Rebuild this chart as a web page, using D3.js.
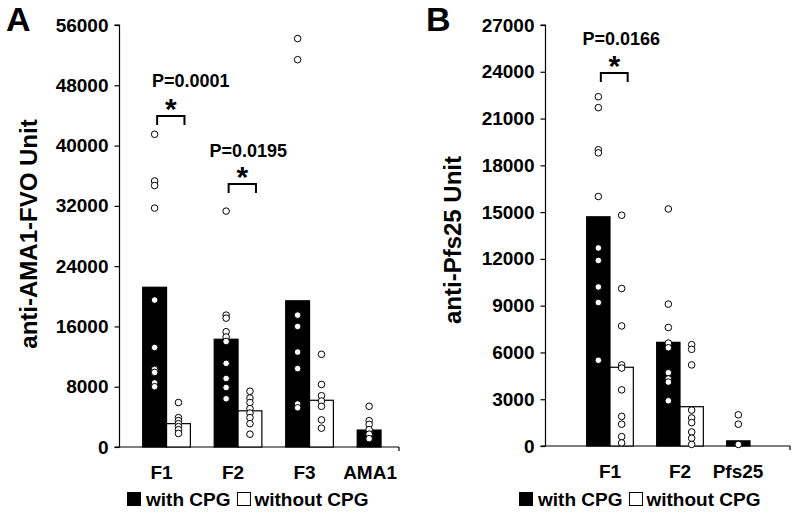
<!DOCTYPE html>
<html>
<head>
<meta charset="utf-8">
<script src="https://cdn.jsdelivr.net/npm/d3@7"></script>
<style>
  html, body { margin: 0; padding: 0; background: #fff; }
  svg { display: block; }
  text { font-family: "Liberation Sans", Arial, sans-serif; font-weight: bold; fill: #000; }
</style>
</head>
<body>
<svg id="chart" width="800" height="521"></svg>
<script>
// ---------------- DATA ----------------
const seriesNames = ["with CPG", "without CPG"];

// Panel A
const categoriesA = ["F1", "F2", "F3", "AMA1"];
const barsWithA = [21200, 14300, 19400, 2250];
const barsWithoutA = [3100, 4800, 6200, null];
const pointsWithA = [
  [41500, 35300, 34700, 31700, 19500, 13200, 10300, 9900, 8500, 8000],
  [31300, 17500, 17100, 15300, 14600, 14000, 11100, 9100, 7900, 6400],
  [54200, 51400, 17500, 16000, 12600, 10400, 5700, 5200],
  [5400, 3500, 3000, 2300, 1700, 1100]
];
const pointsWithoutA = [
  [5900, 3900, 3500, 3100, 2700, 2300, 1800],
  [7400, 6500, 5900, 5100, 4500, 3900, 3100, 1700],
  [12300, 8300, 6800, 6100, 5400, 3600, 2500],
  []
];
const ticksA = [0, 8000, 16000, 24000, 32000, 40000, 48000, 56000];
const titleA = "anti-AMA1-FVO Unit";
const annotA = [
  { cat: "F1", label: "P=0.0001" },
  { cat: "F2", label: "P=0.0195" }
];

// Panel B
const categoriesB = ["F1", "F2", "Pfs25"];
const barsWithB = [14700, 6650, 330];
const barsWithoutB = [5050, 2520, null];
const pointsWithB = [
  [22400, 21700, 19000, 18800, 16000, 12700, 11900, 10200, 9200, 5500],
  [15200, 9100, 7600, 6600, 6300, 4700, 4300, 4100, 2900],
  [2000, 1400, 100]
];
const pointsWithoutB = [
  [14800, 10100, 7700, 5200, 5000, 3600, 1900, 1400, 600, 200],
  [6500, 6200, 5200, 2300, 1800, 1500, 900, 500, 100],
  []
];
const ticksB = [0, 3000, 6000, 9000, 12000, 15000, 18000, 21000, 24000, 27000];
const titleB = "anti-Pfs25 Unit";
const annotB = [
  { cat: "F1", label: "P=0.0166" }
];

// ---------------- DRAW ----------------
const svg = d3.select("#chart");

function panel(cfg) {
  const g = svg.append("g");
  const y = d3.scaleLinear().domain([0, cfg.ymax]).range([cfg.y0, cfg.y1]);
  const x0 = d3.scaleBand().domain(cfg.cats).range(cfg.xRange).padding(0);
  const x1 = d3.scaleBand().domain(seriesNames).range([0, x0.bandwidth()])
    .paddingInner(0).paddingOuter(0.5);

  // y axis
  const yAxis = d3.axisLeft(y).tickValues(cfg.ticks).tickSize(5).tickPadding(6)
    .tickFormat(d3.format("d"));
  const ya = g.append("g").attr("transform", `translate(${cfg.axisX},0)`).call(yAxis);
  ya.select(".domain").attr("stroke", "#000").attr("stroke-width", 1.2)
    .attr("d", `M-5,${cfg.y1}H0V${cfg.y0}H-5`);
  ya.selectAll(".tick line").attr("stroke", "#000").attr("stroke-width", 1.2);
  ya.selectAll(".tick text").style("font-size", "19px")
    .style("font-family", '"Liberation Sans", Arial, sans-serif').style("font-weight", "bold");

  // x axis line
  g.append("line").attr("x1", cfg.axisX).attr("x2", cfg.xAxisEnd)
    .attr("y1", cfg.y0).attr("y2", cfg.y0).attr("stroke", "#000").attr("stroke-width", 1.2);
  g.append("line").attr("x1", cfg.xAxisEnd).attr("x2", cfg.xAxisEnd)
    .attr("y1", cfg.y0).attr("y2", cfg.y0 + 4).attr("stroke", "#000").attr("stroke-width", 1.2);

  // bars
  const barData = [];
  cfg.cats.forEach((c, i) => {
    barData.push({ cat: c, s: seriesNames[0], v: cfg.barsWith[i], pts: cfg.ptsWith[i] });
    if (cfg.barsWithout[i] != null)
      barData.push({ cat: c, s: seriesNames[1], v: cfg.barsWithout[i], pts: cfg.ptsWithout[i] });
  });
  g.selectAll("rect.bar").data(barData).join("rect")
    .attr("class", "bar")
    .attr("x", d => x0(d.cat) + x1(d.s))
    .attr("width", x1.bandwidth())
    .attr("y", d => y(d.v))
    .attr("height", d => y(0) - y(d.v))
    .attr("fill", d => d.s === seriesNames[0] ? "#000" : "#fff")
    .attr("stroke", "#000").attr("stroke-width", 1.2);

  // points
  const ptData = [];
  barData.forEach(b => b.pts.forEach(v => ptData.push({ cat: b.cat, s: b.s, v })));
  g.selectAll("circle.pt").data(ptData).join("circle")
    .attr("class", "pt")
    .attr("cx", d => x0(d.cat) + x1(d.s) + x1.bandwidth() / 2)
    .attr("cy", d => y(d.v))
    .attr("r", 3.3)
    .attr("fill", "#fff").attr("stroke", "#000").attr("stroke-width", 1);

  // category labels
  g.selectAll("text.cat").data(cfg.cats).join("text")
    .attr("class", "cat")
    .attr("x", (d, i) => x0(d) + x0.bandwidth() / 2 + cfg.labelShift[i])
    .attr("y", cfg.y0 + 32)
    .attr("text-anchor", "middle").style("font-size", "19px").text(d => d);

  // y title
  g.append("text")
    .attr("transform", `translate(${cfg.titleX},${cfg.titleY}) rotate(-90)`)
    .attr("text-anchor", "middle").style("font-size", "24px").text(cfg.title);

  // panel letter
  g.append("text").attr("x", cfg.letterX).attr("y", 31)
    .style("font-size", "34px").text(cfg.letter);

  // annotations
  cfg.annot.forEach(a => {
    const xl = x0(a.cat) + x1(seriesNames[0]) + x1.bandwidth() / 2 + 2.5;
    const xr = x0(a.cat) + x1(seriesNames[1]) + x1.bandwidth() / 2 + 6;
    const top = a.top;
    g.append("path")
      .attr("d", `M${xl},${top + 9}V${top}H${xr}V${top + 9}`)
      .attr("fill", "none").attr("stroke", "#000").attr("stroke-width", 2);
    g.append("text").attr("x", (xl + xr) / 2).attr("y", top + 3)
      .attr("text-anchor", "middle").style("font-size", "30px").text("*");
    g.append("text").attr("x", (xl + xr) / 2 + a.pdx).attr("y", a.py)
      .attr("text-anchor", "middle").style("font-size", "18px").text(a.label);
  });

  // legend
  const lg = g.append("g").attr("transform", `translate(${cfg.legendX},${cfg.legendY})`);
  lg.append("rect").attr("x", 0).attr("y", -14).attr("width", 14).attr("height", 14)
    .attr("fill", "#000");
  const t1 = lg.append("text").attr("x", 19).attr("y", 0).style("font-size", "19px").text(seriesNames[0]);
  const w1 = t1.node().getComputedTextLength();
  lg.append("rect").attr("x", 19 + w1 + 7).attr("y", -13.5).attr("width", 13).attr("height", 13)
    .attr("fill", "#fff").attr("stroke", "#000").attr("stroke-width", 1);
  lg.append("text").attr("x", 19 + w1 + 24).attr("y", 0).style("font-size", "19px").text(seriesNames[1]);
}

panel({
  cats: categoriesA, barsWith: barsWithA, barsWithout: barsWithoutA,
  ptsWith: pointsWithA, ptsWithout: pointsWithoutA, ticks: ticksA,
  ymax: 56000, y0: 447, y1: 25, axisX: 119.5, xAxisEnd: 399,
  xRange: [130.8, 416.8], labelShift: [-5, -5, -5, -11], title: titleA, titleX: 37, titleY: 234,
  letter: "A", letterX: 6,
  annot: [
    Object.assign({}, annotA[0], { top: 116, py: 87, pdx: 20 }),
    Object.assign({}, annotA[1], { top: 184, py: 157, pdx: 6 })
  ],
  legendX: 127, legendY: 506
});

panel({
  cats: categoriesB, barsWith: barsWithB, barsWithout: barsWithoutB,
  ptsWith: pointsWithB, ptsWithout: pointsWithoutB, ticks: ticksB,
  ymax: 27000, y0: 446, y1: 25, axisX: 545.5, xAxisEnd: 790,
  xRange: [575, 785], labelShift: [0, 0, -12], title: titleB, titleX: 461, titleY: 240,
  letter: "B", letterX: 426,
  annot: [
    Object.assign({}, annotB[0], { top: 73, py: 45, pdx: 7 })
  ],
  legendX: 519, legendY: 506
});
</script>
</body>
</html>
